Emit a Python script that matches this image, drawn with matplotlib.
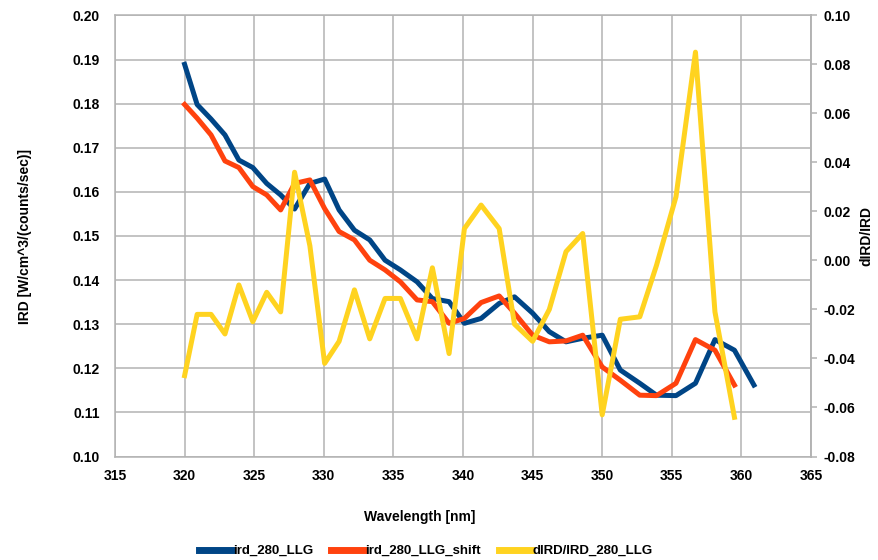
import numpy as np
import matplotlib
matplotlib.use("Agg")
from matplotlib import pyplot as plt
from matplotlib.lines import Line2D
from matplotlib.ticker import FormatStrFormatter

plt.rcParams["font.family"] = ["Liberation Sans", "DejaVu Sans"]
plt.rcParams["font.weight"] = "bold"

# wavelength grid (nm)
wavelength = [320.0, 320.9, 321.9, 322.9, 323.9, 324.9, 325.9, 326.9, 327.9, 329.0,
              330.06, 331.1, 332.2, 333.3, 334.4, 335.5, 336.7, 337.8, 339.0, 340.1,
              341.3, 342.6, 343.7, 345.0, 346.2, 347.4, 348.6, 350.0, 351.3, 352.7,
              353.9, 355.3, 356.7, 358.1, 359.5, 360.9]

ird = [0.1889, 0.1798, 0.1765, 0.1729, 0.1672, 0.1655, 0.1619, 0.1593, 0.1561, 0.1619,
       0.1629, 0.1559, 0.1513, 0.1491, 0.1445, 0.1423, 0.1396, 0.1358, 0.1351, 0.1302,
       0.1313, 0.1347, 0.1362, 0.1325, 0.1283, 0.1260, 0.1268, 0.1275, 0.1196, 0.1166,
       0.1139, 0.1138, 0.1166, 0.1265, 0.1241, 0.1162]

ird_shift = [0.1798, 0.1767, 0.1729, 0.1670, 0.1655, 0.1612, 0.1593, 0.1559, 0.1619, 0.1627,
             0.1562, 0.1510, 0.1491, 0.1445, 0.1423, 0.1396, 0.1355, 0.1351, 0.1302, 0.1313,
             0.1349, 0.1364, 0.1325, 0.1275, 0.1260, 0.1262, 0.1275, 0.1203, 0.1173, 0.1139,
             0.1138, 0.1166, 0.1265, 0.1241, 0.1162]

dird = [-0.047, -0.022, -0.022, -0.030, -0.010, -0.025, -0.013, -0.021, 0.036, 0.006,
        -0.042, -0.033, -0.012, -0.032, -0.0155, -0.0155, -0.032, -0.003, -0.038, 0.013,
        0.0226, 0.013, -0.026, -0.033, -0.020, 0.0036, 0.011, -0.063, -0.024, -0.023,
        -0.002, 0.026, 0.085, -0.021, -0.064]

labels = ["ird_280_LLG", "ird_280_LLG_shift", "dIRD/IRD_280_LLG"]
colors = ["#004586", "#ff420e", "#ffd320"]
grid_col = "#b3b3b3"

fig = plt.figure(figsize=(8.79, 5.6), dpi=100)
ax = fig.add_axes([115/879, 1-456.5/560, (811-115)/879, (456.5-15.4)/560])

ax.plot(wavelength, ird, color=colors[0], lw=3.6, solid_joinstyle="round", zorder=3)
ax.plot(wavelength[:len(ird_shift)], ird_shift, color=colors[1], lw=3.6,
        solid_joinstyle="round", zorder=3)

ax.set_xlim(315, 365)
ax.set_ylim(0.10, 0.20)
ax.set_xticks(np.arange(315, 366, 5))
ax.set_yticks(np.arange(0.10, 0.2001, 0.01))
ax.yaxis.set_major_formatter(FormatStrFormatter("%.2f"))
ax.grid(True, color=grid_col, lw=1.1)
ax.set_axisbelow(True)
for s in ax.spines.values():
    s.set_color(grid_col)
    s.set_linewidth(1.1)
ax.tick_params(axis="both", length=0, labelsize=10)
ax.tick_params(axis="y", pad=11)
ax.tick_params(axis="x", pad=9)

ax2 = ax.twinx()
ax2.plot(wavelength[:len(dird)], dird, color=colors[2], lw=3.6, solid_joinstyle="round")
ax2.set_ylim(-0.08, 0.10)
ax2.set_yticks(np.arange(-0.08, 0.1001, 0.02))
ax2.yaxis.set_major_formatter(FormatStrFormatter("%.2f"))
for s in ax2.spines.values():
    s.set_visible(False)
ax2.spines["right"].set_visible(True)
ax2.spines["right"].set_color(grid_col)
ax2.spines["right"].set_linewidth(1.1)
ax2.tick_params(axis="y", direction="out", length=4, width=1.1, color=grid_col,
                labelsize=10, pad=5)

fig.text(25/879, 1-236/560, "IRD [W/cm^3/(counts/sec)]", rotation=90,
         ha="center", va="center", fontsize=10, fontweight="bold")
fig.text(866/879, 1-236/560, "dIRD/IRD", rotation=90,
         ha="center", va="center", fontsize=10, fontweight="bold")
fig.text(420/879, 1-517/560, "Wavelength [nm]", ha="center", va="center",
         fontsize=10, fontweight="bold")

handles = [Line2D([], [], color=c, lw=5) for c in colors]
fig.legend(handles, labels, loc="center", bbox_to_anchor=(426/879, 1-551/560),
           ncol=3, frameon=False, handlelength=2.4, handletextpad=0.15,
           columnspacing=1.4, prop={"size": 9.5, "weight": "bold"})

fig.savefig("out.png", dpi=100)
